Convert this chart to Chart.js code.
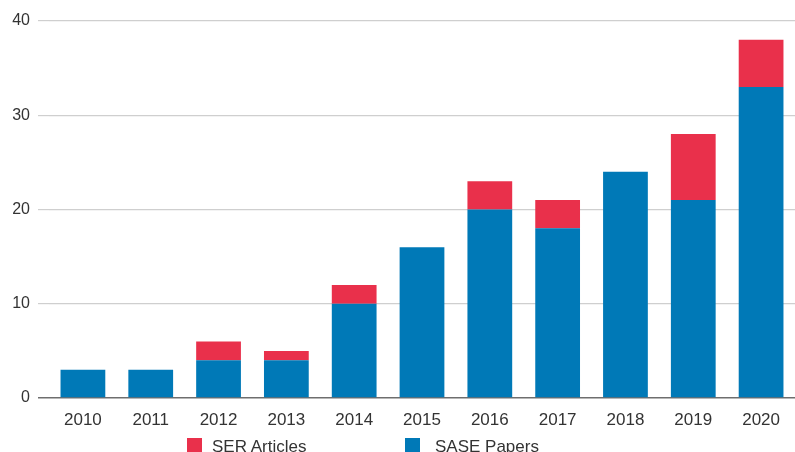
<!DOCTYPE html>
<html>
<head>
<meta charset="utf-8">
<script src="https://cdn.jsdelivr.net/npm/chart.js@4/dist/chart.umd.min.js"></script>
<style>
  html, body { margin: 0; padding: 0; background: #ffffff; }
  #wrap { position: relative; width: 795px; height: 452px; overflow: hidden; }
  canvas { position: absolute; left: 0; top: 0; }
  .lg-box { position: absolute; width: 15px; height: 15px; }
  .lg-txt { position: absolute; font-family: "Liberation Sans", Arial, sans-serif; font-size: 17px; line-height: 17px; color: #333333; white-space: nowrap; }
</style>
</head>
<body>
<div id="wrap">
  <canvas id="c" width="795" height="452"></canvas>
  <div class="lg-box" style="left:187px; top:438px; background:#e9304b;"></div>
  <div class="lg-txt" style="left:212px; top:438px;">SER Articles</div>
  <div class="lg-box" style="left:405px; top:438px; background:#0079b7;"></div>
  <div class="lg-txt" style="left:435px; top:438px;">SASE Papers</div>
</div>
<script>
const categories = ["2010", "2011", "2012", "2013", "2014", "2015", "2016", "2017", "2018", "2019", "2020"];
const saseValues = [3, 3, 4, 4, 10, 16, 20, 18, 24, 21, 33];
const serValues  = [0, 0, 2, 1, 2, 0, 3, 3, 0, 7, 5];
const yTicks = [0, 10, 20, 30, 40];

const fontFamily = '"Liberation Sans", Arial, sans-serif';

new Chart(document.getElementById('c'), {
  type: 'bar',
  data: {
    labels: categories,
    datasets: [
      { label: 'SASE Papers', data: saseValues, backgroundColor: '#0079b7', borderWidth: 0, stack: 's' },
      { label: 'SER Articles', data: serValues, backgroundColor: '#e9304b', borderWidth: 0, stack: 's' }
    ]
  },
  options: {
    responsive: false,
    animation: false,
    layout: { padding: { top: 21, left: 0, right: 0, bottom: 24 } },
    plugins: { legend: { display: false }, tooltip: { enabled: false } },
    datasets: { bar: { categoryPercentage: 1.0, barPercentage: 0.66 } },
    scales: {
      x: {
        stacked: true,
        grid: { display: false },
        border: { display: false },
        ticks: { color: '#333333', font: { family: fontFamily, size: 17 }, padding: 4, maxRotation: 0 },
        afterFit: (s) => { s.height = 30; }
      },
      y: {
        stacked: true,
        min: 0,
        max: 40,
        afterBuildTicks: (s) => { s.ticks = yTicks.map(v => ({ value: v })); },
        grid: {
          color: (ctx) => (ctx.tick && ctx.tick.value === 0) ? '#6e6e6e' : '#cfcfcf',
          lineWidth: (ctx) => (ctx.tick && ctx.tick.value === 0) ? 1.5 : 1.2,
          tickLength: 11,
          drawTicks: true
        },
        border: { display: false },
        ticks: { color: '#333333', font: { family: fontFamily, size: 16 }, padding: 8 },
        afterFit: (s) => { s.width = 49; }
      }
    }
  }
});
</script>
</body>
</html>
